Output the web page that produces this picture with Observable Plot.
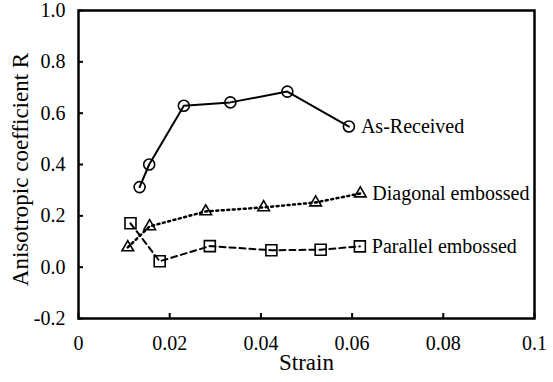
<!DOCTYPE html>
<html>
<head>
<meta charset="utf-8">
<script src="https://cdn.jsdelivr.net/npm/d3@7"></script>
<script src="https://cdn.jsdelivr.net/npm/@observablehq/plot@0.6"></script>
<style>
  html, body { margin: 0; padding: 0; background: #fff; }
  svg, svg g, svg text { font-family: 'Liberation Serif', 'Times New Roman', serif !important; font-variant-numeric: normal !important; }
</style>
</head>
<body>
<div id="chart"></div>
<script>
// Data
const strainAR = [0.0134, 0.0155, 0.0231, 0.0333, 0.0458, 0.0593];
const rAR      = [0.312, 0.400, 0.629, 0.642, 0.684, 0.548];
const strainDiag = [0.0108, 0.0156, 0.0279, 0.0406, 0.0520, 0.0618];
const rDiag      = [0.077, 0.159, 0.217, 0.233, 0.252, 0.287];
const strainPar = [0.0114, 0.0178, 0.0288, 0.0423, 0.0531, 0.0617];
const rPar      = [0.171, 0.023, 0.082, 0.066, 0.068, 0.081];
const seriesNames = ["As-Received", "Diagonal embossed", "Parallel embossed"];
const xTicks = [0, 0.02, 0.04, 0.06, 0.08, 0.1];
const yTicks = [-0.2, 0, 0.2, 0.4, 0.6, 0.8, 1.0];
const xLabel = "Strain";
const yLabel = "Anisotropic coefficient R";

const toRows = (xs, ys, name) => xs.map((x, i) => ({x, y: ys[i], name}));
const ar = toRows(strainAR, rAR, seriesNames[0]);
const diag = toRows(strainDiag, rDiag, seriesNames[1]);
const par = toRows(strainPar, rPar, seriesNames[2]);
const lastPoints = [ar, diag, par].map(s => s[s.length - 1]);

const font = "'Liberation Serif', 'Times New Roman', serif";

const chart = Plot.plot({
  width: 553,
  height: 382,
  marginLeft: 78,
  marginRight: 19,
  marginTop: 10,
  marginBottom: 64,
  style: {fontFamily: font, background: "#fff", color: "#000"},
  x: {domain: [0, 0.1]},
  y: {domain: [-0.2, 1.0]},
  marks: [
    Plot.axisX({ticks: xTicks, tickFormat: d => String(+d.toFixed(2)), tickSize: -5, tickPadding: 22, fontSize: 20, fontFamily: font, strokeWidth: 2, label: null}),
    Plot.axisY({ticks: yTicks, tickFormat: d => d.toFixed(1), tickSize: -5, tickPadding: 18, fontSize: 20, fontFamily: font, strokeWidth: 2, label: null}),
    Plot.frame({stroke: "#000", strokeWidth: 2.5}),
    Plot.line(ar, {x: "x", y: "y", stroke: "#000", strokeWidth: 2}),
    Plot.line(diag, {x: "x", y: "y", stroke: "#000", strokeWidth: 2.5, strokeDasharray: "2,3.5"}),
    Plot.line(par, {x: "x", y: "y", stroke: "#000", strokeWidth: 2, strokeDasharray: "6,4"}),
    Plot.dot(ar, {x: "x", y: "y", symbol: "circle", r: 5.5, stroke: "#000", strokeWidth: 1.6, fill: "none"}),
    Plot.dot(diag, {x: "x", y: "y", symbol: "triangle", r: 4.3, stroke: "#000", strokeWidth: 1.6, fill: "none"}),
    Plot.dot(par, {x: "x", y: "y", symbol: "square", r: 6.2, stroke: "#000", strokeWidth: 1.6, fill: "none"}),
    Plot.text(lastPoints, {x: "x", y: "y", text: "name", dx: 12, textAnchor: "start", fontSize: 20, fontFamily: font, fill: "#000"}),
    Plot.text([xLabel], {frameAnchor: "bottom", dy: 51, fontSize: 23, fontFamily: font, fill: "#000"}),
    Plot.text([yLabel], {frameAnchor: "left", textAnchor: "middle", dx: -58, dy: 5, rotate: -90, fontSize: 23, fontFamily: font, fill: "#000"})
  ]
});
chart.querySelectorAll("text").forEach(t => t.style.fontFamily = font);
document.getElementById("chart").appendChild(chart);
</script>
</body>
</html>
